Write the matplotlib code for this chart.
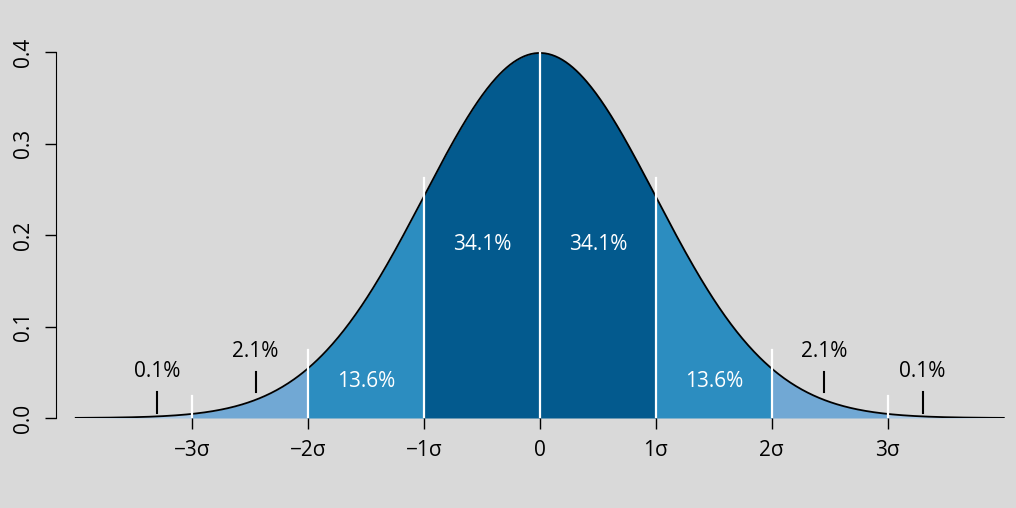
import numpy as np
import matplotlib.pyplot as plt

plt.rcParams['font.family'] = ['Open Sans', 'DejaVu Sans']

bounds = [-1, 0, 1, 2, 3]
band_colors = ['#035a8e', '#035a8e', '#2c8dc0', '#71a8d4']
pct_inner = ['34.1%', '34.1%', '13.6%']
pct_outer = ['2.1%', '0.1%']
outer_pos = [2.45, 3.3]
tick_pos = [-3, -2, -1, 0, 1, 2, 3]
tick_lab = ['\u22123\u03c3', '\u22122\u03c3', '\u22121\u03c3', '0', '1\u03c3', '2\u03c3', '3\u03c3']

def pdf(x):
    return np.exp(-x**2 / 2) / np.sqrt(2 * np.pi)

bg = '#d9d9d9'
fig = plt.figure(figsize=(10.16, 5.08), dpi=100, facecolor=bg)
ax = fig.add_axes([56/1016, 90/508, 960/1016, 378/508])
ax.set_facecolor(bg)
ax.set_xlim(-4.17, 4.105)
ax.set_ylim(0, 0.4 + 12/915)

x = np.linspace(-4.0, 4.0, 800)
for side in (-1, 1):
    for lo, hi, c in [(0, 1, band_colors[0]), (1, 2, band_colors[2]), (2, 3, band_colors[3]), (3, 4, '#a9c8e4')]:
        xs = np.linspace(lo, hi, 100) * side
        ax.fill_between(xs, 0, pdf(xs), color=c, lw=0)
ax.plot(x, pdf(x), color='black', lw=1.3)

# white separators
for b in tick_pos:
    top = pdf(b) + (0.02 if b != 0 else 0)
    ax.plot([b, b], [0, top], color='white', lw=1.6)

ax.text(-0.5, 0.19, pct_inner[0], color='white', ha='center', va='center', fontsize=15)
ax.text(0.5, 0.19, pct_inner[1], color='white', ha='center', va='center', fontsize=15)
ax.text(-1.5, 0.04, pct_inner[2], color='white', ha='center', va='center', fontsize=15)
ax.text(1.5, 0.04, pct_inner[2], color='white', ha='center', va='center', fontsize=15)

for lab, p, base in zip(pct_outer, outer_pos, [0.028, 0.006]):
    for s in (-1, 1):
        ax.plot([s * p, s * p], [base, base + 0.022], color='black', lw=1.5)
        ax.text(s * p, base + 0.045, lab, ha='center', va='center', fontsize=15)

for sp in ['top', 'right']:
    ax.spines[sp].set_visible(False)
ax.spines['bottom'].set_visible(False)
ax.spines['left'].set_bounds(0, 0.4)
ax.set_yticks([0, 0.1, 0.2, 0.3, 0.4])
ax.set_yticklabels(['0.0', '0.1', '0.2', '0.3', '0.4'], rotation=90, va='center', fontsize=15)
ax.set_xticks(tick_pos)
ax.set_xticklabels(tick_lab, fontsize=15)
ax.tick_params(length=8, width=1, pad=8)

fig.savefig('out.png', dpi=100, facecolor=bg)
